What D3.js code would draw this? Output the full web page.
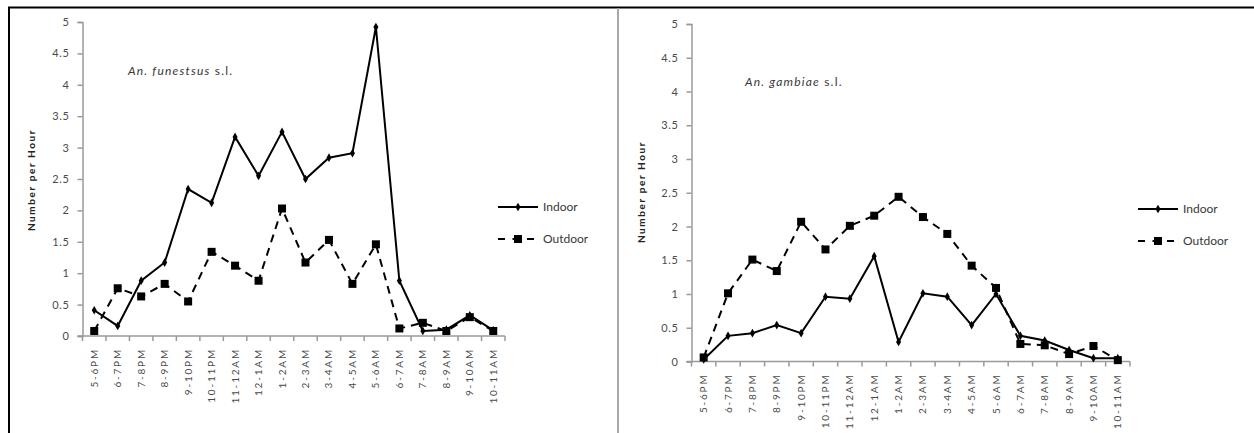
<!DOCTYPE html>
<html>
<head>
<meta charset="utf-8">
<script src="https://cdn.jsdelivr.net/npm/d3@7"></script>
<style>
  html, body { margin: 0; padding: 0; background: #fff; }
  svg { display: block; }
  text { font-family: Lato, "Open Sans", sans-serif; }
</style>
</head>
<body>
<svg id="chart" width="1254" height="433"></svg>
<script>
// Hourly biting periods
const hours = ["5-6PM","6-7PM","7-8PM","8-9PM","9-10PM","10-11PM","11-12AM","12-1AM",
  "1-2AM","2-3AM","3-4AM","4-5AM","5-6AM","6-7AM","7-8AM","8-9AM","9-10AM","10-11AM"];

const yTicks = [0, 0.5, 1, 1.5, 2, 2.5, 3, 3.5, 4, 4.5, 5];

// An. funestus s.l. — number per hour
const funestusIndoor  = [0.41, 0.16, 0.88, 1.17, 2.34, 2.12, 3.17, 2.55, 3.25, 2.50, 2.84, 2.91, 4.92, 0.88, 0.08, 0.10, 0.33, 0.09];
const funestusOutdoor = [0.08, 0.76, 0.63, 0.83, 0.55, 1.34, 1.12, 0.88, 2.03, 1.17, 1.53, 0.83, 1.46, 0.12, 0.21, 0.08, 0.30, 0.08];

// An. gambiae s.l. — number per hour
const gambiaeIndoor  = [0.03, 0.38, 0.42, 0.54, 0.42, 0.96, 0.93, 1.56, 0.29, 1.01, 0.96, 0.54, 1.00, 0.38, 0.31, 0.17, 0.05, 0.05];
const gambiaeOutdoor = [0.06, 1.01, 1.51, 1.34, 2.07, 1.66, 2.01, 2.16, 2.44, 2.14, 1.89, 1.42, 1.09, 0.26, 0.24, 0.11, 0.23, 0.02];

const seriesNames = ["Indoor", "Outdoor"];

const svg = d3.select("#chart");
const textColor = "#383838";
const tickColor = "#4a4a4a";
const axisColor = "#9a9a9a";

// outer frame: top rule, left border, divider between the two panels
svg.append("line").attr("x1", 8).attr("x2", 1254).attr("y1", 7.5).attr("y2", 7.5)
  .attr("stroke", "#000").attr("stroke-width", 2);
svg.append("line").attr("x1", 9).attr("x2", 9).attr("y1", 7).attr("y2", 433)
  .attr("stroke", "#000").attr("stroke-width", 2);
svg.append("line").attr("x1", 618).attr("x2", 618).attr("y1", 8).attr("y2", 433)
  .attr("stroke", "#a8a8a8").attr("stroke-width", 2);

function drawPanel(p) {
  const g = svg.append("g");
  const x = d3.scaleBand().domain(hours).range([p.x0, p.x1]);
  const y = d3.scaleLinear().domain([0, 5]).range([p.y0, p.y1]);

  // y axis
  const yAxis = g.append("g").attr("transform", `translate(${p.x0},0)`)
    .call(d3.axisLeft(y).tickValues(yTicks).tickSize(5).tickPadding(8).tickFormat(d3.format("")));
  yAxis.select(".domain").attr("stroke", axisColor).attr("stroke-width", 1.5);
  yAxis.selectAll(".tick line").attr("stroke", axisColor).attr("stroke-width", 1.5);
  yAxis.selectAll(".tick text").attr("fill", tickColor).attr("font-size", 11)
    .style("letter-spacing", "0.6px").attr("font-family", "Lato, sans-serif");

  // x axis with ticks on band boundaries
  const xAxis = g.append("g").attr("transform", `translate(0,${p.y0})`);
  xAxis.append("line").attr("x1", p.x0 - 5).attr("x2", p.x1).attr("y1", 0).attr("y2", 0)
    .attr("stroke", axisColor).attr("stroke-width", 1.5);
  const edges = hours.map(h => x(h)).concat([p.x1]);
  xAxis.selectAll("line.edge").data(edges).join("line").attr("class", "edge")
    .attr("x1", d => d).attr("x2", d => d).attr("y1", 0).attr("y2", 5)
    .attr("stroke", axisColor).attr("stroke-width", 1.5);
  xAxis.selectAll("text.lbl").data(hours).join("text").attr("class", "lbl")
    .attr("transform", d => `translate(${x(d) + x.bandwidth() / 2 + 3.5},12) rotate(-90)`)
    .attr("text-anchor", "end").attr("font-size", 10).attr("fill", tickColor)
    .style("letter-spacing", "1.8px")
    .text(d => d);

  // y axis title
  g.append("text")
    .attr("transform", `translate(${p.titleX},${p.titleY}) rotate(-90)`)
    .attr("text-anchor", "middle").attr("font-size", 10).attr("font-weight", "bold")
    .style("letter-spacing", "1.6px").attr("fill", "#222")
    .text("Number per Hour");

  // species label
  const sp = g.append("text").attr("x", p.labelX).attr("y", p.labelY)
    .attr("font-size", 12).attr("fill", textColor).style("letter-spacing", "1.2px");
  sp.append("tspan").attr("font-style", "italic").text(p.species);
  sp.append("tspan").text(" s.l.");

  const cx = d => x(d) + x.bandwidth() / 2;
  const line = d3.line().x((d, i) => cx(hours[i])).y(d => y(d));

  // outdoor series: dashed with squares
  g.append("path").datum(p.outdoor).attr("d", line)
    .attr("fill", "none").attr("stroke", "#000").attr("stroke-width", 2)
    .attr("stroke-dasharray", "8,6");
  g.selectAll("rect.out").data(p.outdoor).join("rect").attr("class", "out")
    .attr("x", (d, i) => cx(hours[i]) - 4).attr("y", d => y(d) - 4)
    .attr("width", 8).attr("height", 8).attr("fill", "#000");

  // indoor series: solid with diamonds
  g.append("path").datum(p.indoor).attr("d", line)
    .attr("fill", "none").attr("stroke", "#000").attr("stroke-width", 2);
  g.selectAll("path.in").data(p.indoor).join("path").attr("class", "in")
    .attr("d", d3.symbol(d3.symbolDiamond, 22))
    .attr("transform", (d, i) => `translate(${cx(hours[i])},${y(d)})`)
    .attr("fill", "#000");

  // legend
  const lg = g.append("g").attr("transform", `translate(${p.legendX},${p.legendY})`);
  seriesNames.forEach((name, i) => {
    const row = lg.append("g").attr("transform", `translate(0,${i * 32})`);
    row.append("line").attr("x1", 0).attr("x2", 40).attr("y1", 0).attr("y2", 0)
      .attr("stroke", "#000").attr("stroke-width", 2)
      .attr("stroke-dasharray", i === 0 ? null : "7,7.5");
    if (i === 0) {
      row.append("path").attr("d", d3.symbol(d3.symbolDiamond, 22)).attr("transform", "translate(20,0)");
    } else {
      row.append("rect").attr("x", 16).attr("y", -4).attr("width", 8).attr("height", 8);
    }
    row.append("text").attr("x", 45).attr("y", 4).attr("font-size", 12)
      .attr("fill", textColor).text(name);
  });
}

drawPanel({
  x0: 82.5, x1: 505, y0: 336, y1: 22,
  indoor: funestusIndoor, outdoor: funestusOutdoor,
  species: "An. funestsus", labelX: 128, labelY: 75,
  titleX: 35, titleY: 180,
  legendX: 498, legendY: 207
});

drawPanel({
  x0: 691.5, x1: 1130, y0: 361.5, y1: 24,
  indoor: gambiaeIndoor, outdoor: gambiaeOutdoor,
  species: "An. gambiae", labelX: 745, labelY: 86,
  titleX: 645, titleY: 192,
  legendX: 1138, legendY: 209
});
</script>
</body>
</html>
